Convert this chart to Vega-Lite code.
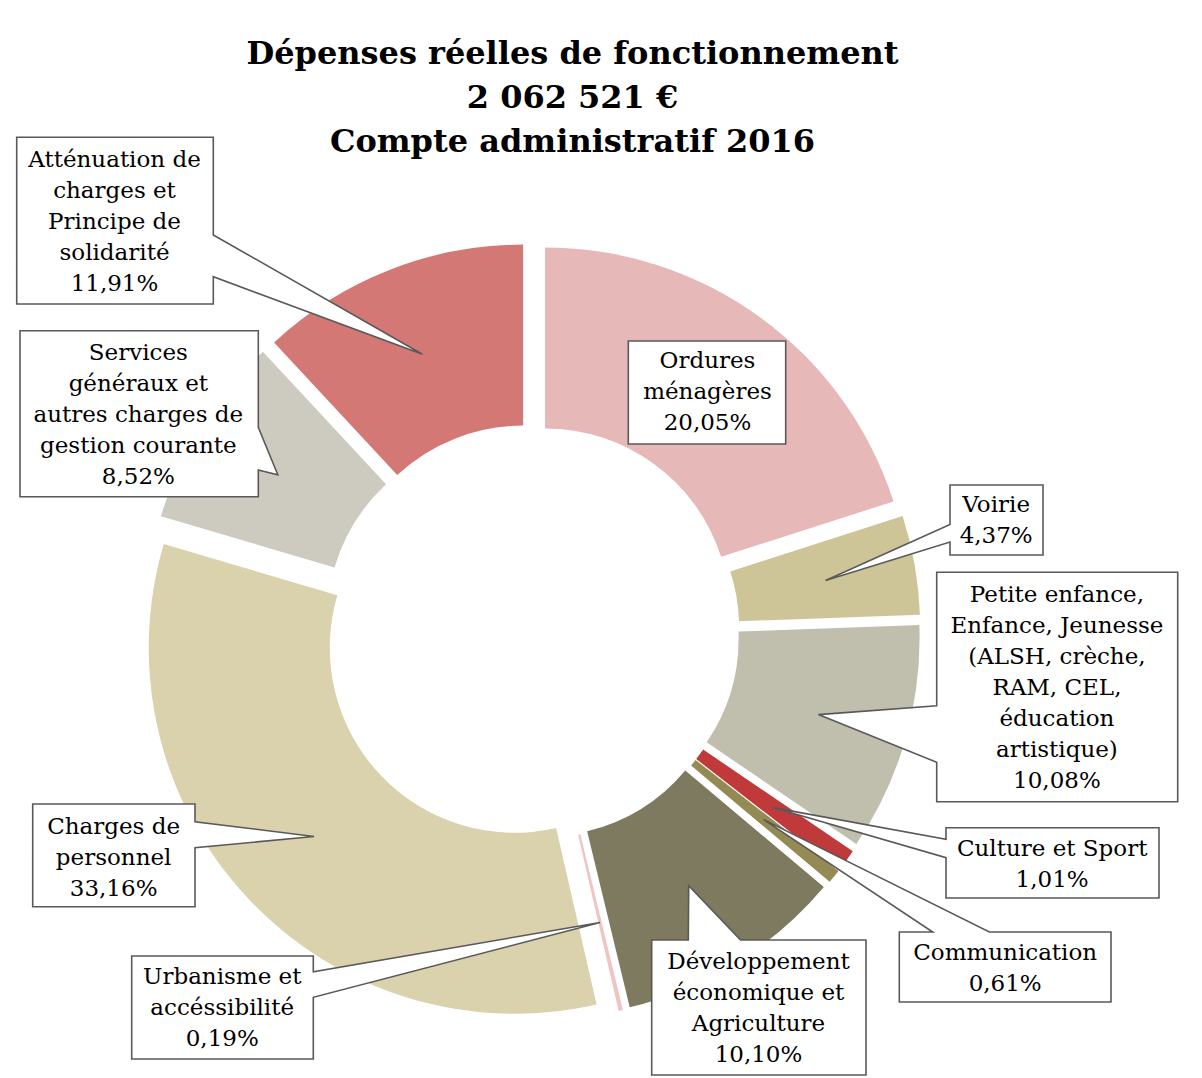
{
  "$schema": "https://vega.github.io/schema/vega-lite/v6.json",
  "autosize": {"type": "none"},
  "width": 1063,
  "height": 892,
  "padding": {"left": 0, "top": 186, "right": 139, "bottom": 0},
  "background": "white",
  "config": {"view": {"stroke": null}},
  "title": {
    "text": ["Dépenses réelles de fonctionnement", "2 062 521 €", "Compte administratif 2016"],
    "font": "DejaVu Serif", "fontSize": 32, "fontWeight": "bold", "lineHeight": 44,
    "anchor": "middle", "frame": "group", "dx": 41, "dy": 25, "offset": 0, "color": "black"
  },
  "data": {"values": [
    {"i": 1, "cat": "Ordures ménagères", "pct": 20.05, "label": "Ordures\nménagères\n20,05%"},
    {"i": 2, "cat": "Voirie", "pct": 4.37, "label": "Voirie\n4,37%"},
    {"i": 3, "cat": "Petite enfance, Enfance, Jeunesse", "pct": 10.08, "label": "Petite enfance,\nEnfance, Jeunesse\n(ALSH, crèche,\nRAM, CEL,\néducation\nartistique)\n10,08%"},
    {"i": 4, "cat": "Culture et Sport", "pct": 1.01, "label": "Culture et Sport\n1,01%"},
    {"i": 5, "cat": "Communication", "pct": 0.61, "label": "Communication\n0,61%"},
    {"i": 6, "cat": "Développement économique et Agriculture", "pct": 10.10, "label": "Développement\néconomique et\nAgriculture\n10,10%"},
    {"i": 7, "cat": "Urbanisme et accéssibilité", "pct": 0.19, "label": "Urbanisme et\naccéssibilité\n0,19%"},
    {"i": 8, "cat": "Charges de personnel", "pct": 33.16, "label": "Charges de\npersonnel\n33,16%"},
    {"i": 9, "cat": "Services généraux et autres charges de gestion courante", "pct": 8.52, "label": "Services\ngénéraux et\nautres charges de\ngestion courante\n8,52%"},
    {"i": 10, "cat": "Atténuation de charges et Principe de solidarité", "pct": 11.91, "label": "Atténuation de\ncharges et\nPrincipe de\nsolidarité\n11,91%"}
  ]},
  "layer": [
    {
      "mark": {
        "type": "arc", "innerRadius": 185, "outerRadius": 366,
        "x": {"expr": "width/2 + 23*sin((scale('theta', datum.pct_start) + scale('theta', datum.pct_end))/2)"},
        "y": {"expr": "height/2 - 23*cos((scale('theta', datum.pct_start) + scale('theta', datum.pct_end))/2)"}
      },
      "encoding": {
        "theta": {"field": "pct", "type": "quantitative", "stack": true},
        "order": {"field": "i", "type": "quantitative"},
        "color": {
          "field": "cat", "type": "nominal", "legend": null,
          "scale": {
            "domain": ["Ordures ménagères", "Voirie", "Petite enfance, Enfance, Jeunesse", "Culture et Sport", "Communication", "Développement économique et Agriculture", "Urbanisme et accéssibilité", "Charges de personnel", "Services généraux et autres charges de gestion courante", "Atténuation de charges et Principe de solidarité"],
            "range": ["#E6B8B7", "#CDC598", "#C0BFAE", "#C0393B", "#948A54", "#7D7A5F", "#EFC4C3", "#D9D2AC", "#CDCBBF", "#D47876"]
          }
        }
      }
    },
    {
      "mark": {"type": "point", "filled": true, "fill": "white", "stroke": "#595959", "strokeWidth": 1.6, "opacity": 1, "size": 4},
      "encoding": {
        "shape": {
          "field": "cat", "type": "nominal", "legend": null,
          "scale": {
            "domain": ["Ordures ménagères", "Voirie", "Petite enfance, Enfance, Jeunesse", "Culture et Sport", "Communication", "Développement économique et Agriculture", "Urbanisme et accéssibilité", "Charges de personnel", "Services généraux et autres charges de gestion courante", "Atténuation de charges et Principe de solidarité"],
            "range": [
              "M96.8,-291H254.2V-188H96.8Z",
              "M418.5,-147H511.5V-77H418.5V-90L294,-51.6L418.5,-107.5Z",
              "M405.2,-59.7H646.2V169.7H405.2V130.3L286.9,82.6L405.2,73.7Z",
              "M414.5,195.7H627.5V266H414.5V225.7L241.4,175.6L414.5,207.3Z",
              "M367.8,300H401.2L232.2,187.6L457.8,300H579.5V370H367.8Z",
              "M120.2,308H156.8L157.2,253.7L209,308H334.5V443H120.2Z",
              "M-399.8,324H-218.2V339.7L68.5,290.5L-218.2,365.3V427H-399.8Z",
              "M-498.8,172H-336.5V189.7L-217.5,204.5L-336.5,215.7V274.7H-498.8Z",
              "M-511.5,-301.3H-273.2V-204.7L-253.7,-157.2L-273.2,-162V-135.3H-511.5Z",
              "M-514.8,-494.7H-318.2V-397L-109.1,-277.8L-318.2,-355.3V-328H-514.8Z"
            ]
          }
        }
      }
    },
    {"transform": [{"window": [{"op": "sum", "field": "pct", "as": "cum"}], "sort": [{"field": "i", "order": "ascending"}]}, {"filter": "datum.cat === 'Ordures ménagères'"}],
     "mark": {"type": "text", "radius": 250, "dx": -62, "dy": -194, "font": "DejaVu Serif", "fontSize": 23, "lineHeight": 31, "lineBreak": "\n", "align": "center", "baseline": "middle", "color": "black"},
     "encoding": {"theta": {"field": "cum", "type": "quantitative", "stack": null}, "text": {"field": "label"}}},
    {"transform": [{"window": [{"op": "sum", "field": "pct", "as": "cum"}], "sort": [{"field": "i", "order": "ascending"}]}, {"filter": "datum.cat === 'Voirie'"}],
     "mark": {"type": "text", "radius": 469, "dx": -4, "dy": -110, "font": "DejaVu Serif", "fontSize": 23, "lineHeight": 31, "lineBreak": "\n", "align": "center", "baseline": "middle", "color": "black"},
     "encoding": {"theta": {"field": "cum", "type": "quantitative", "stack": null}, "text": {"field": "label"}}},
    {"transform": [{"window": [{"op": "sum", "field": "pct", "as": "cum"}], "sort": [{"field": "i", "order": "ascending"}]}, {"filter": "datum.cat === 'Petite enfance, Enfance, Jeunesse'"}],
     "mark": {"type": "text", "radius": 414, "dx": 183, "dy": -270, "font": "DejaVu Serif", "fontSize": 23, "lineHeight": 31, "lineBreak": "\n", "align": "center", "baseline": "middle", "color": "black"},
     "encoding": {"theta": {"field": "cum", "type": "quantitative", "stack": null}, "text": {"field": "label"}}},
    {"transform": [{"window": [{"op": "sum", "field": "pct", "as": "cum"}], "sort": [{"field": "i", "order": "ascending"}]}, {"filter": "datum.cat === 'Culture et Sport'"}],
     "mark": {"type": "text", "radius": 544, "dx": 91, "dy": -117, "font": "DejaVu Serif", "fontSize": 23, "lineHeight": 31, "lineBreak": "\n", "align": "center", "baseline": "middle", "color": "black"},
     "encoding": {"theta": {"field": "cum", "type": "quantitative", "stack": null}, "text": {"field": "label"}}},
    {"transform": [{"window": [{"op": "sum", "field": "pct", "as": "cum"}], "sort": [{"field": "i", "order": "ascending"}]}, {"filter": "datum.cat === 'Communication'"}],
     "mark": {"type": "text", "radius": 569, "dx": 38, "dy": -45, "font": "DejaVu Serif", "fontSize": 23, "lineHeight": 31, "lineBreak": "\n", "align": "center", "baseline": "middle", "color": "black"},
     "encoding": {"theta": {"field": "cum", "type": "quantitative", "stack": null}, "text": {"field": "label"}}},
    {"transform": [{"window": [{"op": "sum", "field": "pct", "as": "cum"}], "sort": [{"field": "i", "order": "ascending"}]}, {"filter": "datum.cat === 'Développement économique et Agriculture'"}],
     "mark": {"type": "text", "radius": 374, "dx": 139, "dy": -34, "font": "DejaVu Serif", "fontSize": 23, "lineHeight": 31, "lineBreak": "\n", "align": "center", "baseline": "middle", "color": "black"},
     "encoding": {"theta": {"field": "cum", "type": "quantitative", "stack": null}, "text": {"field": "label"}}},
    {"transform": [{"window": [{"op": "sum", "field": "pct", "as": "cum"}], "sort": [{"field": "i", "order": "ascending"}]}, {"filter": "datum.cat === 'Urbanisme et accéssibilité'"}],
     "mark": {"type": "text", "radius": 267, "dx": -369, "dy": 85, "font": "DejaVu Serif", "fontSize": 23, "lineHeight": 31, "lineBreak": "\n", "align": "center", "baseline": "middle", "color": "black"},
     "encoding": {"theta": {"field": "cum", "type": "quantitative", "stack": null}, "text": {"field": "label"}}},
    {"transform": [{"window": [{"op": "sum", "field": "pct", "as": "cum"}], "sort": [{"field": "i", "order": "ascending"}]}, {"filter": "datum.cat === 'Charges de personnel'"}],
     "mark": {"type": "text", "radius": 345, "dx": -87, "dy": 293, "font": "DejaVu Serif", "fontSize": 23, "lineHeight": 31, "lineBreak": "\n", "align": "center", "baseline": "middle", "color": "black"},
     "encoding": {"theta": {"field": "cum", "type": "quantitative", "stack": null}, "text": {"field": "label"}}},
    {"transform": [{"window": [{"op": "sum", "field": "pct", "as": "cum"}], "sort": [{"field": "i", "order": "ascending"}]}, {"filter": "datum.cat === 'Services généraux et autres charges de gestion courante'"}],
     "mark": {"type": "text", "radius": 472, "dx": -72, "dy": 67, "font": "DejaVu Serif", "fontSize": 23, "lineHeight": 31, "lineBreak": "\n", "align": "center", "baseline": "middle", "color": "black"},
     "encoding": {"theta": {"field": "cum", "type": "quantitative", "stack": null}, "text": {"field": "label"}}},
    {"transform": [{"window": [{"op": "sum", "field": "pct", "as": "cum"}], "sort": [{"field": "i", "order": "ascending"}]}, {"filter": "datum.cat === 'Atténuation de charges et Principe de solidarité'"}],
     "mark": {"type": "text", "radius": 472, "dx": -417, "dy": 0, "font": "DejaVu Serif", "fontSize": 23, "lineHeight": 31, "lineBreak": "\n", "align": "center", "baseline": "middle", "color": "black"},
     "encoding": {"theta": {"field": "cum", "type": "quantitative", "stack": null}, "text": {"field": "label"}}}
  ]
}
